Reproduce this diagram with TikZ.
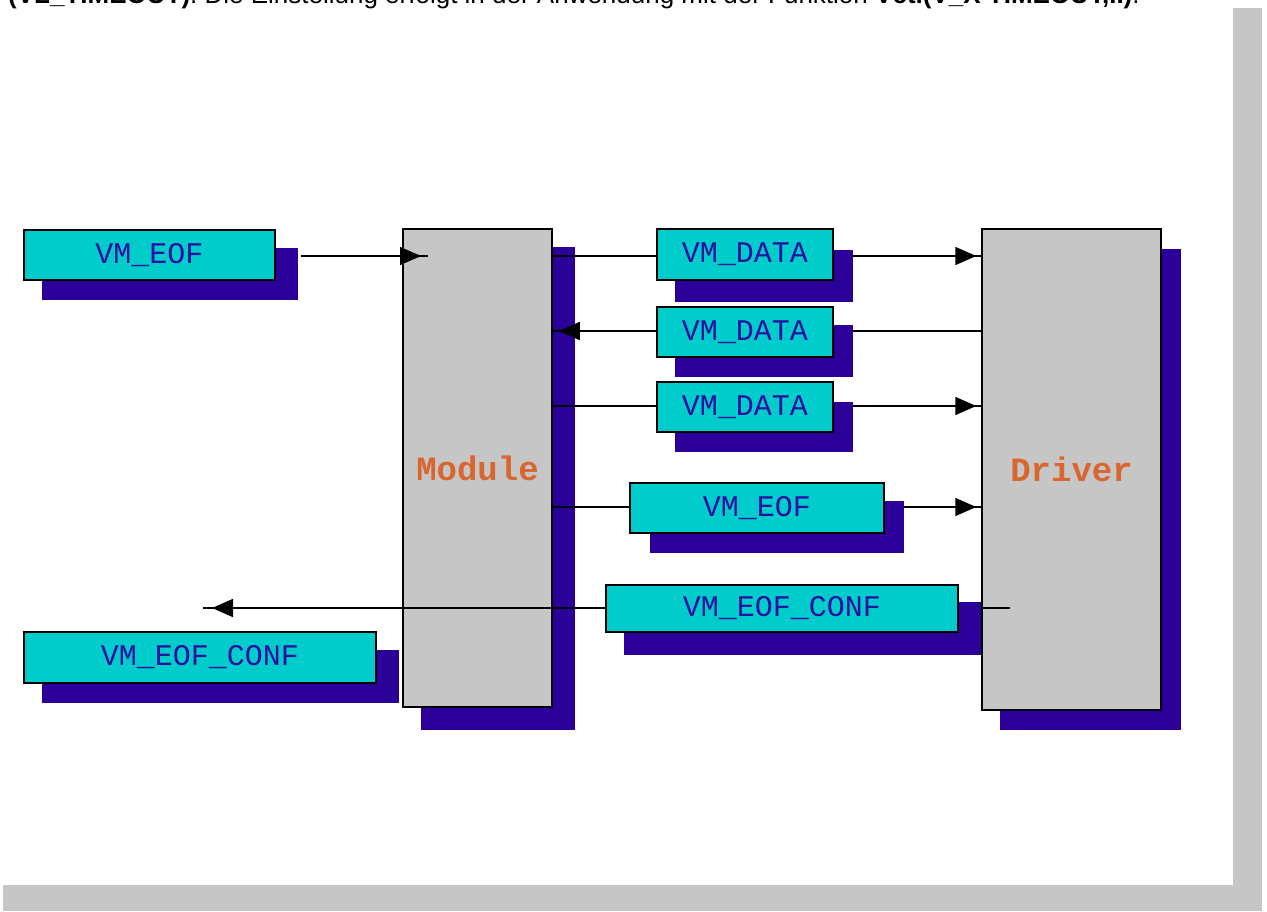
\documentclass[tikz,border=0pt]{standalone}
\usepackage{fontspec}
\setmainfont{Liberation Sans}
\newfontfamily\lmono{Liberation Mono}
\usetikzlibrary{arrows.meta,decorations.markings}
\definecolor{cyanbox}{HTML}{00CCCC}
\definecolor{shadowc}{HTML}{2A0099}
\definecolor{grayc}{HTML}{C6C6C6}
\definecolor{labelc}{HTML}{2A10A0}
\definecolor{orangec}{HTML}{D9652F}
\begin{document}
\begin{tikzpicture}[x=1pt,y=-1pt,
 cbox/.style={draw=black, line width=1.5pt, fill=cyanbox, inner sep=0pt, font=\lmono\fontsize{30}{30}\selectfont, text=labelc},
 gbox/.style={draw=black, line width=1.5pt, fill=grayc, inner sep=0pt, font=\lmono\bfseries\fontsize{34}{34}\selectfont, text=orangec},
 shad/.style={fill=shadowc, inner sep=0pt, draw=none},
 conn/.style={draw=black, line width=1.6pt},
 tipat/.style={decoration={markings, mark=at position #1 with {\arrow{Triangle[length=21pt,width=18pt]}}}, postaction={decorate}},
]
\clip (0,0) rectangle (1267,911);
\fill[white] (0,0) rectangle (1267,911);
% frame shadow
\fill[grayc] (1233,8) rectangle (1262,911);
\fill[grayc] (3,885) rectangle (1262,911);
% caption (cut off at the top edge, as in the reference)
\node[anchor=base west, inner sep=0pt, font=\fontsize{26}{26}\selectfont] (caption) at (8,3)
  {\textbf{(VL\_TIMEOUT)}. Die Einstellung erfolgt in der Anwendung mit der Funktion \textbf{Vctl(V\_X TIMEOUT,..)}.};
% shadows
\node[shad, minimum width=256, minimum height=52] (eofLs) at (170,274) {};
\node[shad, minimum width=154, minimum height=483] (mods) at (498,488.5) {};
\node[shad, minimum width=181, minimum height=481] (drvs) at (1090.5,489.5) {};
\node[shad, minimum width=178, minimum height=52] (d1s) at (764,276) {};
\node[shad, minimum width=178, minimum height=52] (d2s) at (764,351) {};
\node[shad, minimum width=178, minimum height=50] (d3s) at (764,427) {};
\node[shad, minimum width=254, minimum height=52] (eofMs) at (777,527) {};
\node[shad, minimum width=358, minimum height=53] (confMs) at (803,628.5) {};
\node[shad, minimum width=357, minimum height=53] (confLs) at (220.5,676.5) {};
% big boxes
\node[gbox, minimum width=149, minimum height=478] (mod) at (477.5,468) {Module};
\node[gbox, minimum width=179, minimum height=481] (drv) at (1071.5,469.5) {Driver};
% free ends and row levels
\coordinate (eofLout) at (301,256);
\coordinate (modin) at (428,256);
\coordinate (confstart) at (1010,608);
\coordinate (confend) at (203,608);
\coordinate (r1) at (0,256);
\coordinate (r2) at (0,331);
\coordinate (r3) at (0,406);
\coordinate (r4) at (0,507);
\coordinate (r5) at (0,608);
% small boxes
\node[cbox, minimum width=251, minimum height=50] (eofL) at (149.5,255) {VM\_EOF};
\node[cbox, minimum width=176, minimum height=51] (d1) at (745,254.5) {VM\_DATA};
\node[cbox, minimum width=176, minimum height=50] (d2) at (745,332) {VM\_DATA};
\node[cbox, minimum width=176, minimum height=50] (d3) at (745,407) {VM\_DATA};
\node[cbox, minimum width=254, minimum height=50] (eofM) at (757,508) {VM\_EOF};
\node[cbox, minimum width=352, minimum height=47] (confM) at (782,608.5) {VM\_EOF\_CONF};
\node[cbox, minimum width=352, minimum height=51] (confL) at (200,657.5) {VM\_EOF\_CONF};
% connectors
\draw[conn, tipat=-7pt] (eofLout) -- (modin);
\draw[conn] (mod.east |- r1) -- (d1.west |- r1);
\draw[conn, tipat=-5pt] (d1s.east |- r1) -- (drv.west |- r1);
\draw[conn] (drv.west |- r2) -- (d2s.east |- r2);
\draw[conn, tipat=-6pt] (d2.west |- r2) -- (mod.east |- r2);
\draw[conn] (mod.east |- r3) -- (d3.west |- r3);
\draw[conn, tipat=-5pt] (d3s.east |- r3) -- (drv.west |- r3);
\draw[conn] (mod.east |- r4) -- (eofM.west |- r4);
\draw[conn, tipat=-5pt] (eofMs.east |- r4) -- (drv.west |- r4);
\draw[conn] (confstart) -- (confMs.east |- r5);
\draw[conn, tipat=-9pt] (confM.west |- r5) -- (confend);
\end{tikzpicture}
\end{document}
